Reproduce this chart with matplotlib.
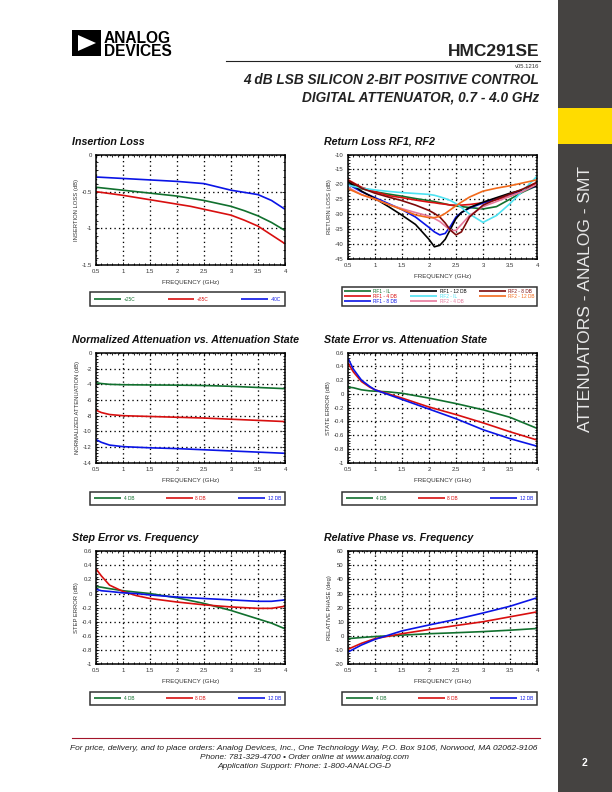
import matplotlib
matplotlib.use('Agg')
import matplotlib.pyplot as plt
from matplotlib.patches import Rectangle, Polygon
from matplotlib.lines import Line2D
from matplotlib.ticker import AutoMinorLocator, MultipleLocator, FuncFormatter

plt.rcParams['font.family'] = ['Liberation Sans', 'DejaVu Sans']

# ---------------- data ----------------
il_freq = [0.5, 1.0, 1.5, 2.0, 2.25, 2.5, 2.75, 3.0, 3.25, 3.5, 3.75, 4.0]
il_p25 = [-0.44, -0.48, -0.52, -0.56, -0.59, -0.62, -0.66, -0.70, -0.76, -0.83, -0.92, -1.03]
il_p85 = [-0.50, -0.55, -0.61, -0.67, -0.70, -0.74, -0.78, -0.82, -0.89, -0.97, -1.09, -1.21]
il_m40 = [-0.30, -0.32, -0.34, -0.36, -0.375, -0.39, -0.435, -0.48, -0.51, -0.54, -0.62, -0.74]
il_labels = ['+25C', '+85C', '-40C']

rl_freq = [0.5, 0.75, 1.0, 1.25, 1.5, 1.75, 2.0, 2.1, 2.2, 2.3, 2.4, 2.5, 2.6, 2.75, 3.0, 3.25, 3.5, 3.75, 4.0]
rl_rf1_il = [-19.5, -21.5, -22.5, -23.3, -24.0, -24.8, -25.5, -25.8, -26.2, -26.6, -27.0, -27.3, -27.5, -27.8, -28.3, -27.5, -25.0, -22.5, -20.5]
rl_rf1_4 = [-18.5, -21.0, -22.5, -23.8, -24.5, -25.3, -26.0, -26.2, -26.5, -26.7, -27.0, -27.0, -27.0, -26.8, -26.2, -25.2, -24.0, -22.0, -19.5]
rl_rf1_8 = [-20.0, -22.5, -24.5, -26.5, -28.5, -31.0, -34.5, -36.0, -37.0, -36.5, -34.0, -31.0, -29.5, -28.0, -26.3, -24.8, -23.3, -22.0, -20.5]
rl_rf1_12 = [-19.0, -22.3, -24.8, -27.5, -30.4, -33.5, -38.5, -41.0, -40.5, -38.5, -35.0, -31.5, -29.5, -27.8, -26.0, -24.5, -23.0, -21.8, -20.5]
rl_rf2_il = [-20.3, -21.3, -21.9, -22.4, -22.8, -23.1, -23.4, -23.7, -24.2, -24.8, -25.5, -26.5, -27.8, -30.0, -32.8, -30.5, -26.5, -22.0, -17.3]
rl_rf2_4 = [-21.0, -23.5, -25.0, -26.8, -28.2, -29.5, -30.7, -31.5, -32.5, -34.0, -35.5, -35.5, -33.5, -30.5, -27.5, -25.8, -24.0, -22.3, -20.0]
rl_rf2_8 = [-18.7, -21.3, -23.0, -24.3, -25.5, -27.0, -28.8, -29.8, -31.0, -33.0, -35.5, -37.0, -36.0, -31.0, -27.0, -25.0, -23.3, -21.5, -19.3]
rl_rf2_12 = [-21.5, -23.5, -25.0, -26.8, -28.5, -30.3, -31.2, -31.2, -30.8, -29.8, -28.5, -27.2, -26.0, -24.3, -22.3, -21.3, -20.5, -19.5, -18.5]
rl_labels = ['RF1 - IL', 'RF1 - 4 DB', 'RF1 - 8 DB', 'RF1 - 12 DB', 'RF2 - IL', 'RF2 - 4 DB', 'RF2 - 8 DB', 'RF2 - 12 DB']

na_freq = [0.5, 0.6, 0.75, 1.0, 1.5, 2.0, 2.5, 3.0, 3.5, 4.0]
na_4 = [-3.8, -3.9, -4.0, -4.05, -4.08, -4.1, -4.15, -4.25, -4.4, -4.55]
na_8 = [-7.3, -7.6, -7.85, -8.0, -8.1, -8.2, -8.3, -8.45, -8.6, -8.75]
na_12 = [-11.05, -11.4, -11.75, -11.95, -12.1, -12.2, -12.35, -12.5, -12.65, -12.8]

se_freq = [0.5, 0.6, 0.75, 0.9, 1.0, 1.25, 1.5, 2.0, 2.5, 3.0, 3.5, 4.0]
se_4 = [0.10, 0.09, 0.06, 0.045, 0.04, 0.03, 0.01, -0.06, -0.14, -0.23, -0.34, -0.50]
se_8 = [0.45, 0.32, 0.18, 0.10, 0.06, 0.0, -0.06, -0.19, -0.30, -0.42, -0.55, -0.67]
se_12 = [0.52, 0.36, 0.20, 0.11, 0.06, -0.01, -0.08, -0.22, -0.36, -0.52, -0.65, -0.76]

st_freq = [0.5, 0.6, 0.75, 1.0, 1.25, 1.5, 2.0, 2.5, 3.0, 3.5, 3.75, 4.0]
st_4 = [0.10, 0.09, 0.07, 0.04, 0.02, 0.0, -0.06, -0.14, -0.24, -0.36, -0.42, -0.50]
st_8 = [0.35, 0.25, 0.12, 0.03, -0.03, -0.07, -0.12, -0.16, -0.19, -0.21, -0.21, -0.18]
st_12 = [0.06, 0.04, 0.03, 0.01, 0.0, -0.02, -0.05, -0.07, -0.09, -0.11, -0.11, -0.09]

ph_freq = [0.5, 0.75, 1.0, 1.5, 2.0, 2.5, 3.0, 3.5, 4.0]
ph_4 = [-2.0, -1.2, -0.5, 0.5, 1.5, 2.2, 3.0, 4.0, 5.2]
ph_8 = [-9.5, -5.3, -2.0, 1.5, 4.5, 7.3, 10.0, 13.5, 17.0]
ph_12 = [-11.5, -6.5, -2.5, 3.5, 7.7, 11.7, 16.2, 21.0, 27.0]

state_labels = ['4 DB', '8 DB', '12 DB']

GREEN = '#11702e'
RED = '#d80f0f'
BLUE = '#0a14e6'
CYAN = '#4fe3f2'
PINK = '#e6789c'
MAROON = '#7e0a0a'
ORANGE = '#f26a1b'
BLACK = '#000000'

# ---------------- figure ----------------
W, H = 612, 792
fig = plt.figure(figsize=(6.12, 7.92), dpi=100)


def fx(x):
    return x / W


def fy(y):
    return 1 - y / H


def gfmt(v, pos):
    v = round(v, 6)
    if abs(v) < 1e-9:
        return '0'
    return '%g' % v


def chart(box, title, tpos, xlim, ylim, ystep, ylabel, series, lbox, lcols=3,
          lfs=3.4, lspacing=0.3, lpad=0.9, ylabelpad=2.0):
    x0, y0, x1, y1 = box
    ax = fig.add_axes([fx(x0), fy(y1), (x1 - x0) / W, (y1 - y0) / H])
    handles = []
    for xs, ys, c, lab in series:
        ln, = ax.plot(xs, ys, color=c, lw=1.2, label=lab, solid_capstyle='butt')
        handles.append(ln)
    ax.set_xlim(*xlim)
    ax.set_ylim(*ylim)
    ax.xaxis.set_major_locator(MultipleLocator(0.5))
    ax.yaxis.set_major_locator(MultipleLocator(ystep))
    ax.xaxis.set_minor_locator(AutoMinorLocator(5))
    ax.yaxis.set_minor_locator(AutoMinorLocator(5))
    ax.xaxis.set_major_formatter(FuncFormatter(gfmt))
    ax.yaxis.set_major_formatter(FuncFormatter(gfmt))
    ax.tick_params(which='both', direction='in', top=True, right=True,
                   labelsize=4.3, labelcolor='#333333', width=0.6)
    ax.tick_params(which='major', length=2.5, pad=3)
    ax.tick_params(which='minor', length=1.5)
    ax.grid(False, which='minor')
    ax.grid(True, which='major', color='black', lw=0.95, ls=(0, (1, 2.4)))
    for s in ax.spines.values():
        s.set_linewidth(1.1)
    ax.set_xlabel('FREQUENCY (GHz)', fontsize=4.5, color='#333333', labelpad=4.5)
    ax.set_ylabel(ylabel, fontsize=4.2, color='#333333', labelpad=ylabelpad)
    fig.text(fx(tpos[0]), fy(tpos[1]), title, fontsize=7.7, fontweight='bold',
             style='italic', ha='left', va='center', color='#111111')
    lx0, ly0, lx1, ly1 = lbox
    leg = ax.legend(handles=handles, loc='center',
                    bbox_to_anchor=(fx(lx0), fy(ly1), (lx1 - lx0) / W, (ly1 - ly0) / H),
                    bbox_transform=fig.transFigure, mode='expand', ncol=lcols,
                    fontsize=lfs, frameon=True, fancybox=False, edgecolor='black',
                    handlelength=5.6, handletextpad=0.6, labelspacing=lspacing,
                    borderpad=lpad, borderaxespad=0, labelcolor='linecolor',
                    columnspacing=1.0)
    leg.get_frame().set_linewidth(1.1)
    return ax


chart((96, 155, 285, 265), 'Insertion Loss', (72, 142), (0.5, 4), (-1.5, 0), 0.5,
      'INSERTION LOSS (dB)',
      [(il_freq, il_p25, GREEN, il_labels[0]),
       (il_freq, il_p85, RED, il_labels[1]),
       (il_freq, il_m40, BLUE, il_labels[2])],
      (90, 293, 285, 305))

chart((348, 154.5, 537, 258.7), 'Return Loss RF1, RF2', (324, 142), (0.5, 4), (-45, -10), 5,
      'RETURN LOSS (dB)',
      [(rl_freq, rl_rf1_il, GREEN, rl_labels[0]),
       (rl_freq, rl_rf1_4, RED, rl_labels[1]),
       (rl_freq, rl_rf1_8, BLUE, rl_labels[2]),
       (rl_freq, rl_rf1_12, BLACK, rl_labels[3]),
       (rl_freq, rl_rf2_il, CYAN, rl_labels[4]),
       (rl_freq, rl_rf2_4, PINK, rl_labels[5]),
       (rl_freq, rl_rf2_8, MAROON, rl_labels[6]),
       (rl_freq, rl_rf2_12, ORANGE, rl_labels[7])],
      (342, 287, 537, 306), lspacing=0.02, lpad=0.45)

chart((96, 353, 285, 462.7), 'Normalized Attenuation vs. Attenuation State', (72, 340),
      (0.5, 4), (-14, 0), 2, 'NORMALIZED ATTENUATION (dB)',
      [(na_freq, na_4, GREEN, state_labels[0]),
       (na_freq, na_8, RED, state_labels[1]),
       (na_freq, na_12, BLUE, state_labels[2])],
      (90, 492.5, 285, 504))

chart((348, 352.7, 537, 462.7), 'State Error vs. Attenuation State', (324, 340),
      (0.5, 4), (-1, 0.6), 0.2, 'STATE ERROR (dB)',
      [(se_freq, se_4, GREEN, state_labels[0]),
       (se_freq, se_8, RED, state_labels[1]),
       (se_freq, se_12, BLUE, state_labels[2])],
      (342, 492.5, 537, 504))

chart((96, 551.3, 285, 664), 'Step Error vs. Frequency', (72, 538),
      (0.5, 4), (-1, 0.6), 0.2, 'STEP ERROR (dB)',
      [(st_freq, st_4, GREEN, state_labels[0]),
       (st_freq, st_8, RED, state_labels[1]),
       (st_freq, st_12, BLUE, state_labels[2])],
      (90, 692, 285, 704.7))

chart((348, 551.3, 537, 664), 'Relative Phase vs. Frequency', (324, 538),
      (0.5, 4), (-20, 60), 10, 'RELATIVE PHASE (deg)',
      [(ph_freq, ph_4, GREEN, state_labels[0]),
       (ph_freq, ph_8, RED, state_labels[1]),
       (ph_freq, ph_12, BLUE, state_labels[2])],
      (342, 692, 537, 704.7))

# ---------------- page decorations ----------------
# sidebar
fig.patches.append(Rectangle((fx(558), 0), (W - 558) / W, 1, transform=fig.transFigure,
                             facecolor='#454341', edgecolor='none', zorder=0))
fig.patches.append(Rectangle((fx(558), fy(144)), (W - 558) / W, 36 / H, transform=fig.transFigure,
                             facecolor='#ffdc00', edgecolor='none', zorder=1))
fig.text(fx(585), fy(299), 'ATTENUATORS - ANALOG - SMT', rotation=90, fontsize=12.6,
         color='#e8e8e8', ha='center', va='center')
fig.text(fx(584), fy(763), '2', fontsize=7.5, fontweight='bold', color='white',
         ha='center', va='center')

# logo
fig.patches.append(Rectangle((fx(72), fy(56)), 29 / W, 26 / H, transform=fig.transFigure,
                             facecolor='black', edgecolor='none'))
fig.patches.append(Polygon([(fx(78), fy(35)), (fx(78), fy(51)), (fx(96), fy(43))],
                           closed=True, transform=fig.transFigure, facecolor='white',
                           edgecolor='none'))
fig.text(fx(104), fy(55.5), 'ANALOG\nDEVICES', fontsize=11.2, fontweight='bold', ha='left',
         va='baseline', color='black', linespacing=0.82, multialignment='left')

# header
fig.text(fx(539), fy(51), 'HMC291SE', fontsize=12.5, fontweight='bold', ha='right',
         va='center', color='#222222')
fig.add_artist(Line2D([fx(226), fx(540)], [fy(60.5), fy(60.5)], color='#222222', lw=0.8))
fig.text(fx(539), fy(66), 'v05.1216', fontsize=4.2, ha='right', va='center', color='#333333')
fig.text(fx(539), fy(80), '4 dB LSB SILICON 2-BIT POSITIVE CONTROL', fontsize=9.8,
         fontweight='bold', style='italic', ha='right', va='center', color='#222222')
fig.text(fx(539), fy(97), 'DIGITAL ATTENUATOR, 0.7 - 4.0 GHz', fontsize=9.8,
         fontweight='bold', style='italic', ha='right', va='center', color='#222222')

# footer
fig.add_artist(Line2D([fx(72), fx(540)], [fy(737.5), fy(737.5)], color='#a3142a', lw=0.8))
fig.text(fx(304), fy(748.5), 'For price, delivery, and to place orders: Analog Devices, Inc., '
         'One Technology Way, P.O. Box 9106, Norwood, MA 02062-9106',
         fontsize=6.0, style='italic', ha='center', va='center', color='#222222')
fig.text(fx(304), fy(757.5), 'Phone: 781-329-4700 \u2022 Order online at www.analog.com',
         fontsize=6.0, style='italic', ha='center', va='center', color='#222222')
fig.text(fx(304), fy(766), 'Application Support: Phone: 1-800-ANALOG-D',
         fontsize=6.0, style='italic', ha='center', va='center', color='#222222')

fig.savefig('out.png', dpi=100)
